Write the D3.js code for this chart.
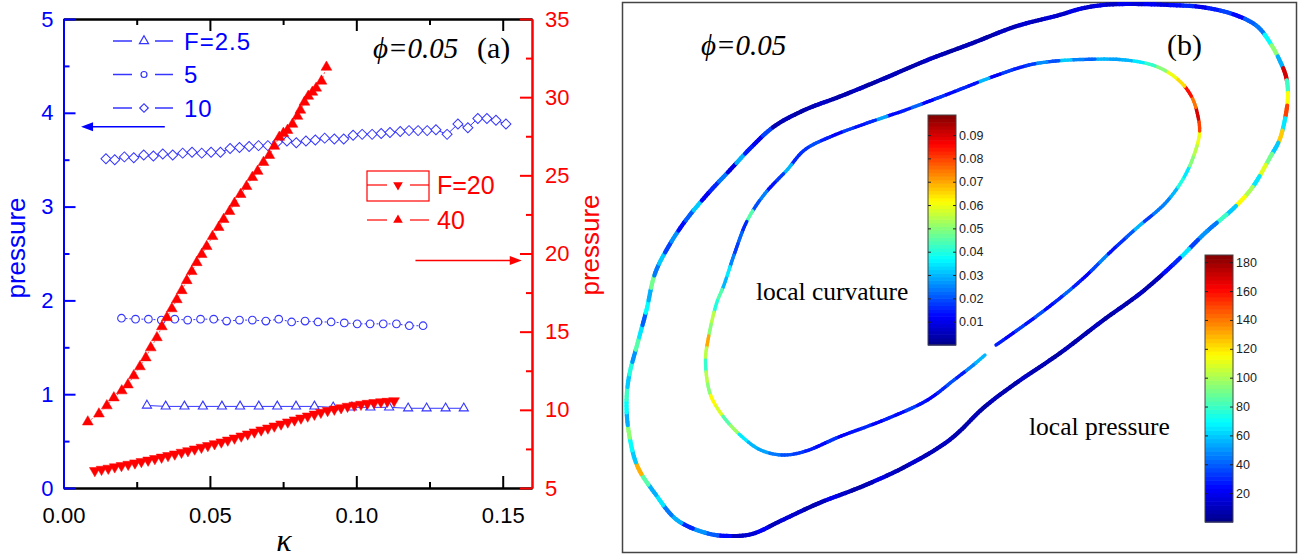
<!DOCTYPE html>
<html><head><meta charset="utf-8">
<script src="https://cdn.jsdelivr.net/npm/d3@7"></script>
<style>body{margin:0;background:#fff}svg{display:block}</style>
</head><body>
<svg id="c" width="1310" height="560"></svg>
<script>
// ---------------- Panel (a) data ----------------
const kappaF25 = [0.0285,0.0349,0.0413,0.0476,0.0541,0.0603,0.0667,0.0730,0.0794,0.0857,0.0921,0.0985,0.1048,0.1112,0.1177,0.1240,0.1305,0.1367];
const pF25 = [0.88,0.87,0.87,0.87,0.87,0.87,0.87,0.87,0.87,0.87,0.86,0.86,0.86,0.86,0.85,0.85,0.85,0.85];

const kappaF5 = [0.0198,0.0246,0.0290,0.0334,0.0380,0.0424,0.0468,0.0513,0.0557,0.0601,0.0645,0.0691,0.0735,0.0779,0.0825,0.0869,0.0914,0.0959,0.1003,0.1047,0.1092,0.1137,0.1181,0.1228];
const pF5 = [1.81,1.80,1.80,1.79,1.80,1.79,1.80,1.80,1.78,1.79,1.79,1.78,1.80,1.77,1.78,1.77,1.77,1.76,1.75,1.75,1.75,1.75,1.73,1.73];

const kappaF10 = [0.0145,0.0175,0.0208,0.0240,0.0274,0.0307,0.0339,0.0373,0.0407,0.0439,0.0472,0.0504,0.0536,0.0569,0.0601,0.0634,0.0666,0.0698,0.0731,0.0763,0.0795,0.0828,0.0860,0.0892,0.0925,0.0957,0.0989,0.1020,0.1054,0.1085,0.1115,0.1150,0.1180,0.1211,0.1242,0.1272,0.1310,0.1347,0.1381,0.1415,0.1446,0.1477,0.1511];
const pF10 = [3.51,3.50,3.53,3.52,3.55,3.54,3.56,3.55,3.57,3.58,3.57,3.58,3.58,3.62,3.63,3.64,3.65,3.65,3.69,3.70,3.68,3.70,3.71,3.73,3.72,3.72,3.76,3.77,3.77,3.78,3.79,3.80,3.81,3.81,3.81,3.82,3.77,3.88,3.84,3.94,3.94,3.92,3.88];

const kappaF20 = [0.0107,0.0130,0.0153,0.0175,0.0198,0.0221,0.0244,0.0266,0.0289,0.0312,0.0335,0.0357,0.0380,0.0403,0.0425,0.0448,0.0471,0.0493,0.0516,0.0539,0.0561,0.0584,0.0607,0.0629,0.0652,0.0675,0.0698,0.0720,0.0743,0.0766,0.0789,0.0811,0.0834,0.0857,0.0879,0.0902,0.0925,0.0948,0.0970,0.0993,0.1016,0.1038,0.1061,0.1084,0.1106,0.1129];
const pF20 = [6.11,6.19,6.26,6.35,6.43,6.51,6.60,6.69,6.78,6.88,6.97,7.07,7.17,7.28,7.38,7.49,7.60,7.71,7.83,7.94,8.06,8.19,8.32,8.45,8.58,8.71,8.83,8.96,9.09,9.22,9.35,9.47,9.60,9.72,9.84,9.95,10.04,10.13,10.22,10.29,10.35,10.41,10.46,10.51,10.54,10.58];

const kappaF40 = [0.0083,0.0121,0.0148,0.0172,0.0199,0.0220,0.0240,0.0261,0.0281,0.0298,0.0319,0.0336,0.0353,0.0370,0.0387,0.0404,0.0421,0.0438,0.0455,0.0472,0.0489,0.0509,0.0530,0.0547,0.0567,0.0584,0.0605,0.0625,0.0645,0.0663,0.0683,0.0703,0.0720,0.0737,0.0751,0.0765,0.0782,0.0799,0.0809,0.0823,0.0836,0.0850,0.0863,0.0881,0.0898];
const pF40 = [9.23,9.74,10.26,10.77,11.22,11.60,12.18,12.76,13.33,13.97,14.62,15.32,15.90,16.47,17.05,17.63,18.27,18.85,19.42,19.94,20.45,21.09,21.67,22.18,22.69,23.21,23.78,24.29,24.87,25.26,25.83,26.28,26.86,27.44,27.69,27.88,28.27,28.78,29.17,29.68,30.06,30.32,30.58,31.03,31.92];

const xTicksMajor = [0, 0.05, 0.10, 0.15];
const xTicksMinor = [0.025, 0.075, 0.125];
const yLTicksMajor = [0,1,2,3,4,5];
const yLTicksMinor = [0.5,1.5,2.5,3.5,4.5];
const yRTicksMajor = [5,10,15,20,25,30,35];
const yRTicksMinor = [7.5,12.5,17.5,22.5,27.5,32.5];
const blueLegend = ["F=2.5","5","10"];
const redLegend = ["F=20","40"];

// ---------------- Panel (b) data ----------------
const outerX = [87.5,91.9,96.3,100.7,109.5,116.5,122.7,127.1,129.7,131.5,132.8,133.2,132.8,131.5,129.7,126.2,122.7,116.5,111.2,104.0,96.3,87.5,78.7,72.6,65.5,56.7,48.0,39.2,32.1,26.0,21.6,17.2,11.0,6.6,3.1,1.4,0.9,1.4,3.1,4.9,6.6,9.3,12.8,17.2,21.6,26.0,30.4,36.5,43.6,52.4,61.1,69.9,78.7];
const outerY = [107.6,108.9,109.6,109.8,109.6,109.1,107.6,105.3,101.9,98.6,95.3,91.9,87.9,82.6,79.3,73.3,69.3,63.9,58.6,52.2,46.6,39.9,33.9,29.3,22.6,17.3,13.3,9.9,6.6,3.8,3.4,3.9,6.6,11.9,17.3,23.9,29.9,35.3,41.9,48.6,55.9,61.3,66.6,71.9,76.6,81.3,85.3,88.6,91.3,94.9,98.6,101.9,105.3];
const outerPressure = [14,18,12,20,16, 22,18,25,30,20,28,35,24,40, 45,70,95,55,170, 80,115,150,65, 125,60,90,110,65,100,115, 60,80,45,50,35,65,30,25,
 10,8,12,7,9,6,11,8,7,10,6,9,8,12,7,8,10,6,9,7,8,11,9,
 10,14,8,12,18,9,7,12,20,10,8,13,16,10,22,15,12,
 25,40,50,30,55,45, 65,55,85,130,60,70,95,55,70,80, 60,75,50,85,65,40,70,55,90,45,60,
 35,50,25,40,60,22,30,45,18,55,28,20,35,
 8,10,6,9,12,7,8,11,6,9,10,7,8,12,9,6,10,8,7,11,9,14,10, 15,12,18];

const innerX = [74.8,78.7,85.6,91.9,98.1,103.3,108.6,112.1,114.3,115.5,115.2,113.9,111.3,106.9,100.7,91.9,85.8,81.4,74.3,65.5,56.7,48.8,41.8,36.5,33.0,28.6,25.1,22.5,20.4,18.9,17.2,16.7,17.6,19.8,23.3,27.7,32.1,36.5,43.6,52.4,61.1,66.4,69.9,72.6];
const innerY = [41.6,44.3,49.4,54.6,60.6,65.3,69.9,74.6,79.3,83.9,87.3,91.3,94.6,97.3,98.6,98.7,98.3,97.6,95.3,91.9,88.6,85.9,83.3,80.6,76.6,71.9,66.6,59.9,53.6,49.9,42.6,38.6,31.9,27.9,23.9,20.6,19.6,20.3,23.3,26.6,30.6,34.6,37.3,39.6];
const innerCurvature = [0.015,0.012,0.018,0.014,0.02,0.013,0.016,0.022,0.015,0.012,0.019,0.025,0.014,0.017,0.021,0.03,0.018,0.024,
 0.025,0.03,0.04,0.035,0.05,0.055,0.06,
 0.08,0.09,0.075,0.085,0.065,
 0.06,0.05,0.042,0.035,0.03,
 0.028,0.03,0.022,0.025,0.032,0.02,0.026,0.018,
 0.015,0.018,0.012,0.03,0.014,0.016,0.013,0.017,0.012,0.022,0.015,0.013,0.028,0.016,0.014,0.018,0.012,0.015,0.02,0.017,
 0.016,0.03,0.018,0.014,0.025,0.02,0.045,0.016,0.022,0.018,
 0.025,0.035,0.03,0.045,0.04,0.055,0.05,0.07,0.055,
 0.042,0.055,0.05,0.062,0.058,0.045,0.052,0.035,0.03,
 0.028,0.024,0.02,0.018,
 0.015,0.013,0.017,0.012,0.014,0.016,0.012,0.015,0.013,0.018,0.014,0.012,0.016,0.02,0.015,0.025,0.03];
const curvTicks = [0.01,0.02,0.03,0.04,0.05,0.06,0.07,0.08,0.09];
const presTicks = [20,40,60,80,100,120,140,160,180];

// ---------------- styles ----------------
const BLUE = "#0000ff", MBLUE = "#3535ff", RED = "#ff0000";
const SANS = "'Liberation Sans', Arial, sans-serif";
const SERIF = "'Liberation Serif', 'Times New Roman', serif";

const svg = d3.select("#c");

// ---------------- Panel (a) ----------------
const x = d3.scaleLinear().domain([0, 0.16]).range([63.5, 532]);
const yL = d3.scaleLinear().domain([0, 5]).range([488, 19]);
const yR = d3.scaleLinear().domain([5, 35]).range([488, 19]);
const gA = svg.append("g");

function styleAxis(g, color, fs) {
  g.select(".domain").attr("stroke", color).attr("stroke-width", 2);
  g.selectAll(".tick line").attr("stroke", color).attr("stroke-width", 2);
  g.selectAll(".tick text").attr("fill", color).attr("font-family", SANS).attr("font-size", fs);
}
let ax = gA.append("g").attr("transform", "translate(0,488)")
  .call(d3.axisBottom(x).tickValues(xTicksMajor).tickSize(-12).tickSizeOuter(0).tickPadding(19).tickFormat(d3.format(".2f")));
styleAxis(ax, "#000", 22);
ax = gA.append("g").attr("transform", "translate(0,488)")
  .call(d3.axisBottom(x).tickValues(xTicksMinor).tickSize(-6).tickSizeOuter(0).tickFormat(""));
styleAxis(ax, "#000", 22);
ax = gA.append("g").attr("transform", "translate(0,19)")
  .call(d3.axisTop(x).tickValues(xTicksMajor).tickSize(-12).tickSizeOuter(0).tickFormat(""));
styleAxis(ax, "#000", 22);
ax = gA.append("g").attr("transform", "translate(0,19)")
  .call(d3.axisTop(x).tickValues(xTicksMinor).tickSize(-6).tickSizeOuter(0).tickFormat(""));
styleAxis(ax, "#000", 22);
ax = gA.append("g").attr("transform", "translate(63.5,0)")
  .call(d3.axisLeft(yL).tickValues(yLTicksMajor).tickSize(-12).tickSizeOuter(0).tickPadding(10).tickFormat(d3.format("d")));
styleAxis(ax, BLUE, 22);
ax = gA.append("g").attr("transform", "translate(63.5,0)")
  .call(d3.axisLeft(yL).tickValues(yLTicksMinor).tickSize(-6).tickSizeOuter(0).tickFormat(""));
styleAxis(ax, BLUE, 22);
ax = gA.append("g").attr("transform", "translate(532,0)")
  .call(d3.axisRight(yR).tickValues(yRTicksMajor).tickSize(-12).tickSizeOuter(0).tickPadding(13).tickFormat(d3.format("d")));
styleAxis(ax, RED, 22);
ax = gA.append("g").attr("transform", "translate(532,0)")
  .call(d3.axisRight(yR).tickValues(yRTicksMinor).tickSize(-6).tickSizeOuter(0).tickFormat(""));
styleAxis(ax, RED, 22);

gA.append("text").attr("transform", "translate(25,248) rotate(-90)").attr("text-anchor", "middle")
  .attr("font-family", SANS).attr("font-size", 26).attr("fill", BLUE).text("pressure");
gA.append("text").attr("transform", "translate(599,245) rotate(-90)").attr("text-anchor", "middle")
  .attr("font-family", SANS).attr("font-size", 26).attr("fill", RED).text("pressure");
gA.append("text").attr("x", 284).attr("y", 551).attr("text-anchor", "middle")
  .attr("font-family", SERIF).attr("font-style", "italic").attr("font-size", 32).attr("fill", "#000").text("κ");
gA.append("text").attr("x", 373).attr("y", 58).attr("font-family", SERIF).attr("font-style", "italic")
  .attr("font-size", 29).attr("fill", "#000").text("ϕ=0.05");
gA.append("text").attr("x", 477).attr("y", 58).attr("font-family", SERIF)
  .attr("font-size", 30).attr("fill", "#000").text("(a)");

const triUp = d3.symbol().type(d3.symbolTriangle);
const circ = d3.symbol().type(d3.symbolCircle);
const sq = d3.symbol().type(d3.symbolSquare);

function series(xs, ys, yScale, o) {
  const data = xs.map((k, i) => [k, ys[i]]);
  if (o.lineColor) {
    gA.append("path").datum(data)
      .attr("d", d3.line().x(d => x(d[0])).y(d => yScale(d[1])))
      .attr("fill", "none").attr("stroke", o.lineColor).attr("stroke-width", 1)
      .attr("stroke-dasharray", o.dash || null);
  }
  gA.append("g").selectAll("path").data(data).join("path")
    .attr("d", o.sym.size(o.size)())
    .attr("transform", d => `translate(${x(d[0])},${yScale(d[1])}) rotate(${o.rot || 0})`)
    .attr("fill", o.fill).attr("stroke", o.stroke).attr("stroke-width", o.sw || 1);
}
series(kappaF10, pF10, yL, {sym: sq, size: 50, rot: 45, fill: "#fff", stroke: MBLUE, sw: 1, lineColor: MBLUE});
series(kappaF5, pF5, yL, {sym: circ, size: 46, fill: "#fff", stroke: MBLUE, sw: 1.1, lineColor: MBLUE, dash: "2,2"});
series(kappaF25, pF25, yL, {sym: triUp, size: 36, fill: "#fff", stroke: MBLUE, sw: 1.1, lineColor: MBLUE});
series(kappaF20, pF20, yR, {sym: triUp, size: 50, rot: 180, fill: RED, stroke: RED, sw: 0.5, lineColor: "#ff6060", dash: "2,2"});
series(kappaF40, pF40, yR, {sym: triUp, size: 50, fill: RED, stroke: RED, sw: 0.5, lineColor: "#ff6060", dash: "2,2"});

const blueSyms = [{s: triUp, size: 36, rot: 0}, {s: circ, size: 28, rot: 0}, {s: sq, size: 36, rot: 45}];
blueLegend.forEach((lab, i) => {
  const cy = 41 + i * 33.5;
  const g = gA.append("g");
  g.append("line").attr("x1", 113).attr("x2", 132).attr("y1", cy).attr("y2", cy).attr("stroke", MBLUE).attr("stroke-width", 1.5);
  g.append("line").attr("x1", 155).attr("x2", 173).attr("y1", cy).attr("y2", cy).attr("stroke", MBLUE).attr("stroke-width", 1.5);
  g.append("path").attr("d", blueSyms[i].s.size(blueSyms[i].size)())
    .attr("transform", `translate(144,${cy}) rotate(${blueSyms[i].rot})`)
    .attr("fill", "#fff").attr("stroke", MBLUE).attr("stroke-width", 1.2);
  g.append("text").attr("x", 184).attr("y", cy + 8.5).attr("font-family", SANS).attr("font-size", 24)
    .attr("letter-spacing", 1).attr("fill", BLUE).text(lab);
});
gA.append("rect").attr("x", 367).attr("y", 171).attr("width", 62).attr("height", 30)
  .attr("fill", "none").attr("stroke", RED).attr("stroke-width", 1.2);
redLegend.forEach((lab, i) => {
  const cy = 185 + i * 35;
  const g = gA.append("g");
  g.append("line").attr("x1", 367).attr("x2", 387).attr("y1", cy).attr("y2", cy).attr("stroke", RED).attr("stroke-width", 1.2);
  g.append("line").attr("x1", 410).attr("x2", 429).attr("y1", cy).attr("y2", cy).attr("stroke", RED).attr("stroke-width", 1.2);
  g.append("path").attr("d", triUp.size(40)()).attr("transform", `translate(398,${cy}) rotate(${i === 0 ? 180 : 0})`).attr("fill", RED);
  g.append("text").attr("x", 437).attr("y", cy + 9).attr("font-family", SANS).attr("font-size", 25)
    .attr("fill", RED).text(lab);
});
function arrow(x1, x2, yv, yScale, color) {
  const X1 = x(x1), X2 = x(x2), Y = yScale(yv);
  const dir = Math.sign(X2 - X1);
  gA.append("line").attr("x1", X1).attr("x2", X2 - dir * 8).attr("y1", Y).attr("y2", Y).attr("stroke", color).attr("stroke-width", 1.5);
  gA.append("path").attr("d", d3.line()([[X2, Y], [X2 - dir * 12, Y - 4.5], [X2 - dir * 12, Y + 4.5]]) + "Z").attr("fill", color);
}
arrow(0.0346, 0.0060, 3.85, yL, BLUE);
arrow(0.1202, 0.1565, 19.55, yR, RED);

// ---------------- Panel (b) ----------------
const gB = svg.append("g");
gB.append("rect").attr("x", 622.5).attr("y", 2.5).attr("width", 674).attr("height", 550)
  .attr("fill", "#fff").attr("stroke", "#444").attr("stroke-width", 1.5);
const xB = d3.scaleLinear().domain([0, 135]).range([622, 1297]);
const yB = d3.scaleLinear().domain([0, 110]).range([553, 3]);
const jet = d3.scaleLinear().domain([0, 0.125, 0.375, 0.625, 0.875, 1])
  .range(["#000088", "#0000ff", "#00ffff", "#ffff00", "#ff0000", "#800000"]).clamp(true);
const PMAX = 185, CMAX = 0.0986;

function drawLoop(xs, ys, vals, vmax, closed, width) {
  const pts = xs.map((u, i) => [xB(u), yB(ys[i])]);
  const ln = d3.line().curve(closed ? d3.curveCatmullRomClosed.alpha(0.5) : d3.curveCatmullRom.alpha(0.5));
  const tmp = gB.append("path").attr("d", ln(pts)).attr("fill", "none").attr("stroke", "none");
  const node = tmp.node(), L = node.getTotalLength();
  const sub = 4, N = vals.length * sub;
  const g = gB.append("g");
  for (let i = 0; i < N; i++) {
    const a = node.getPointAtLength(L * i / N), b = node.getPointAtLength(L * (i + 1) / N);
    g.append("line").attr("x1", a.x).attr("y1", a.y).attr("x2", b.x).attr("y2", b.y)
      .attr("stroke", jet(vals[Math.floor(i / sub)] / vmax)).attr("stroke-width", width).attr("stroke-linecap", "round");
  }
  tmp.remove();
}
drawLoop(outerX, outerY, outerPressure, PMAX, true, 4.2);
drawLoop(innerX, innerY, innerCurvature, CMAX, false, 3.4);

function colorbar(x0, y0, y1, vmax, ticks, fmt) {
  const s = d3.scaleLinear().domain([0, vmax]).range([y1, y0]);
  const w = 28, nb = 64;
  const g = gB.append("g");
  g.selectAll("rect.b").data(d3.range(nb)).join("rect")
    .attr("x", x0).attr("width", w)
    .attr("y", i => s(vmax * (i + 1) / nb)).attr("height", i => s(vmax * i / nb) - s(vmax * (i + 1) / nb) + 0.6)
    .attr("fill", i => jet((i + 0.5) / nb));
  g.append("rect").attr("x", x0).attr("y", y0).attr("width", w).attr("height", y1 - y0)
    .attr("fill", "none").attr("stroke", "#444").attr("stroke-width", 1);
  const ar = g.append("g").attr("transform", `translate(${x0 + w},0)`)
    .call(d3.axisRight(s).tickValues(ticks).tickSize(-3).tickSizeOuter(0).tickPadding(3).tickFormat(fmt));
  ar.select(".domain").remove();
  ar.selectAll(".tick line").attr("stroke", "#222");
  ar.selectAll(".tick text").attr("font-family", SANS).attr("font-size", 12.5).attr("fill", "#222");
  const al = g.append("g").attr("transform", `translate(${x0},0)`)
    .call(d3.axisLeft(s).tickValues(ticks).tickSize(-3).tickSizeOuter(0).tickFormat(""));
  al.select(".domain").remove();
  al.selectAll(".tick line").attr("stroke", "#222");
}
colorbar(928, 115, 345, CMAX, curvTicks, d3.format(".2f"));
colorbar(1205, 255, 522, PMAX, presTicks, d3.format("d"));

gB.append("text").attr("x", 701).attr("y", 55).attr("font-family", SERIF).attr("font-style", "italic")
  .attr("font-size", 29).attr("fill", "#000").text("ϕ=0.05");
gB.append("text").attr("x", 1167).attr("y", 55).attr("font-family", SERIF)
  .attr("font-size", 30).attr("fill", "#000").text("(b)");
gB.append("text").attr("x", 756).attr("y", 300).attr("font-family", SERIF)
  .attr("font-size", 25.5).attr("fill", "#000").text("local curvature");
gB.append("text").attr("x", 1029).attr("y", 435).attr("font-family", SERIF)
  .attr("font-size", 25.5).attr("fill", "#000").text("local pressure");
</script>
</body></html>
